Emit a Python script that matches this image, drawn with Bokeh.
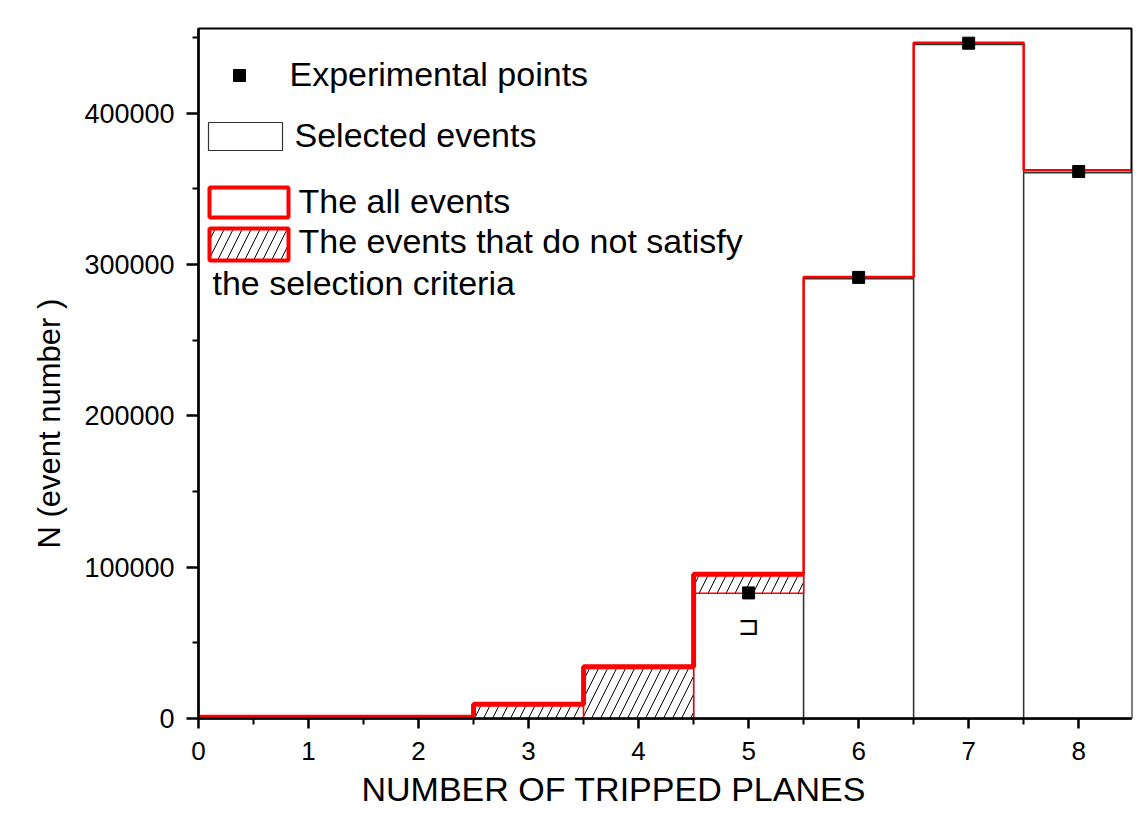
import numpy as np
from bokeh.plotting import figure
from bokeh.models import FixedTicker, NumeralTickFormatter, Label, Range1d, Title
from bokeh.core.properties import value
from bokeh.embed import file_html
from bokeh.resources import INLINE

# ---- data -------------------------------------------------------------
planes = [0, 1, 2, 3, 4, 5, 6, 7, 8]
all_events = [800, 800, 800, 9400, 34200, 95400, 291800, 446600, 362400]
selected_events = [0, 0, 0, 0, 0, 82800, 290600, 445500, 360700]
exp_x = [5, 6, 7, 8]
exp_y = [83000, 291500, 446300, 361500]
mark_x = [5]
mark_y = [61000]
x_ticks = [0, 1, 2, 3, 4, 5, 6, 7, 8]
y_ticks = [0, 100000, 200000, 300000, 400000]

FONT = "Liberation Sans"
X_END, Y_END = 8.48, 456000
FRAME_L, FRAME_R, FRAME_T, FRAME_B = 198, 1131, 28, 718
W, H = 1137, 814

SX = (FRAME_R - FRAME_L) / X_END
SY = (FRAME_B - FRAME_T) / Y_END


def dx(px):
    return (px - FRAME_L) / SX


def dy(py):
    return (FRAME_B - py) / SY


p = figure(width=W, height=H, x_range=Range1d(0, X_END), y_range=Range1d(0, Y_END),
           output_backend="svg", toolbar_location=None,
           min_border_left=FRAME_L, min_border_right=W - FRAME_R,
           min_border_top=FRAME_T, min_border_bottom=H - FRAME_B)
p.grid.visible = False
p.outline_line_color = "black"
p.outline_line_width = 2
p.background_fill_color = "white"
p.border_fill_color = "white"

# ---- axes -------------------------------------------------------------
p.xaxis.ticker = FixedTicker(ticks=x_ticks, minor_ticks=[t + 0.5 for t in x_ticks])
p.yaxis.ticker = FixedTicker(ticks=y_ticks,
                             minor_ticks=[t + 50000 for t in y_ticks])
p.yaxis.formatter = NumeralTickFormatter(format="0")
for ax in (p.xaxis[0], p.yaxis[0]):
    ax.axis_line_width = 2.5
    ax.axis_line_color = "black"
    ax.major_tick_line_width = 2.5
    ax.minor_tick_line_width = 2
    ax.major_tick_in = 0
    ax.minor_tick_in = 0
    ax.minor_tick_out = 6
    ax.major_label_text_font = FONT
    ax.major_label_text_color = "black"
p.xaxis.major_tick_out = 10
p.xaxis.major_label_text_font_size = "26px"
p.xaxis.major_label_standoff = 13
p.yaxis.major_tick_out = 12
p.yaxis.major_label_text_font_size = "27px"
p.yaxis.major_label_standoff = 12

# axis titles, placed off-centre along their axes
p.add_layout(Title(text="NUMBER OF TRIPPED PLANES", align="left", offset=163,
                   standoff=10, text_font=FONT, text_font_size="34px",
                   text_font_style="normal", text_color="black"), "below")
p.add_layout(Title(text="N (event number )", align="left", offset=170,
                   standoff=30, text_font=FONT, text_font_size="31px",
                   text_font_style="normal", text_color="black"), "left")

# ---- bars ---------------------------------------------------------------
planes_a = np.array(planes, dtype=float)
all_a = np.array(all_events, dtype=float)
sel_a = np.array(selected_events, dtype=float)
lo, hi = planes_a - 0.5, planes_a + 0.5

has_sel = sel_a > 0
p.quad(left=lo[has_sel], right=hi[has_sel], bottom=0, top=sel_a[has_sel],
       fill_color="white", line_color="#333333", line_width=1.5)

HATCH = dict(hatch_pattern="/", hatch_color="black", hatch_weight=1, hatch_scale=18)
rejected = (all_a - sel_a) > 0.02 * all_a
p.quad(left=lo[rejected], right=hi[rejected], bottom=sel_a[rejected], top=all_a[rejected],
       fill_color="white", line_color="red", line_width=1.5, **HATCH)

# outline of all events: thin red step over the whole range
edges = np.append(lo, hi[-1])
step_x = np.repeat(edges, 2)
step_y = np.concatenate([[0], np.repeat(all_a, 2), [0]])
p.line(step_x, step_y, line_color="red", line_width=2.5)

# heavier outline where events were rejected
idx = np.where(rejected)[0]
i0, i1 = idx[0], idx[-1]
thick_x = np.repeat(edges[i0:i1 + 2], 2)[:-1]
thick_y = np.concatenate([[all_a[i0 - 1]], np.repeat(all_a[i0:i1 + 1], 2)])
p.line(thick_x, thick_y, line_color="red", line_width=5)

# experimental points
p.scatter(exp_x, exp_y, marker="square", size=12, color="black")
p.text(mark_x, mark_y, text=["⊐"], text_font=value("DejaVu Sans"),
       text_font_size="26px", text_align="center", text_baseline="middle",
       text_color="black")

# ---- legend -------------------------------------------------------------
p.scatter([dx(239)], [dy(75)], marker="square", size=12, color="black")
p.quad(left=[dx(208)], right=[dx(282)], top=[dy(122)], bottom=[dy(150)],
       fill_color="white", line_color="#333333", line_width=1.2)
p.quad(left=[dx(209)], right=[dx(288)], top=[dy(187)], bottom=[dy(217)],
       fill_color="white", line_color="red", line_width=4)
p.quad(left=[dx(209)], right=[dx(288)], top=[dy(228)], bottom=[dy(260)],
       fill_color="white", line_color="red", line_width=4, **HATCH)

legend_texts = [("Experimental points", 289, 73),
                ("Selected events", 294, 134),
                ("The all events", 298, 200),
                ("The events that do not satisfy", 298, 240),
                ("the selection criteria", 212, 282)]
for txt, px, py in legend_texts:
    p.add_layout(Label(x=dx(px), y=dy(py), text=txt, text_font=FONT,
                       text_font_size="34px", text_align="left",
                       text_baseline="alphabetic", text_color="black"))

open("out.html", "w").write(file_html(p, INLINE))
